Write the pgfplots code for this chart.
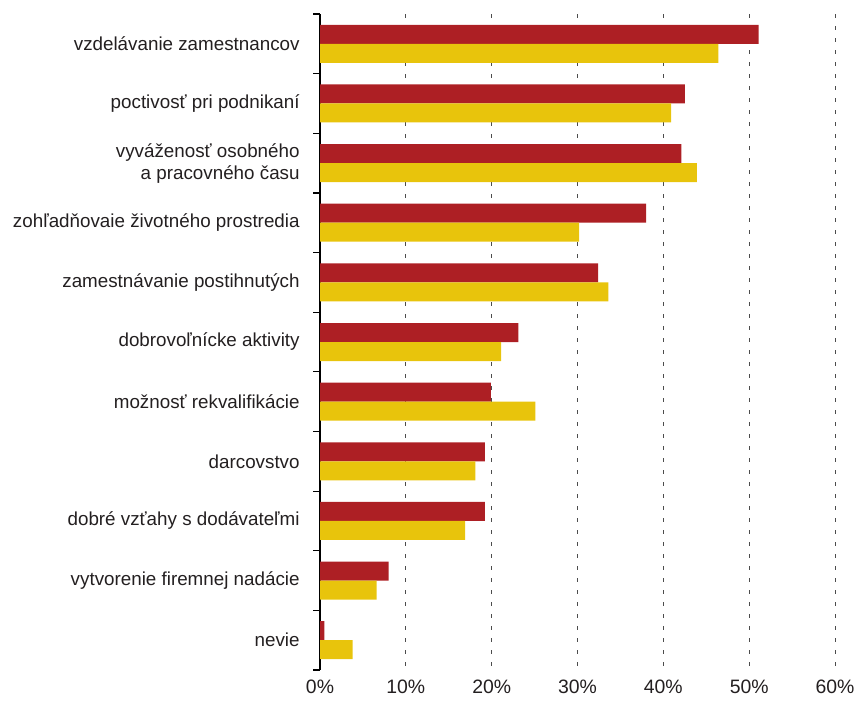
\documentclass[border=0pt]{standalone}
\usepackage{pgfplots}
\pgfplotsset{compat=1.18}
\usepackage{fontspec}
\setmainfont{Liberation Sans}
\definecolor{cred}{RGB}{173,31,36}
\definecolor{cyel}{RGB}{232,196,12}
\definecolor{ctxt}{RGB}{35,31,32}
\pgfplotstableread{
idx red yel
0 51.1 46.4
1 42.5 40.9
2 42.1 43.9
3 38.0 30.2
4 32.4 33.6
5 23.1 21.1
6 19.9 25.1
7 19.2 18.1
8 19.2 16.9
9 8.0 6.6
10 0.5 3.8
}\data
\begin{document}
\begin{tikzpicture}
\begin{axis}[
  scale only axis, width=257.5pt, height=328pt,
  xbar, bar width=9.5pt,
  xmin=0, xmax=60, ymin=-0.5, ymax=10.5, y dir=reverse,
  xtick={0,10,...,60},
  xticklabel={\pgfmathprintnumber{\tick}\%},
  /pgf/number format/assume math mode=true,
  xmajorgrids,
  major grid style={black!70, line width=0.5pt, dash pattern=on 2pt off 4pt},
  ytick={0,...,10},
  yticklabels={vzdelávanie zamestnancov, poctivosť pri podnikaní, {vyváženosť osobného\\a pracovného času}, zohľadňovaie životného prostredia, zamestnávanie postihnutých, dobrovoľnícke aktivity, možnosť rekvalifikácie, darcovstvo, dobré vzťahy s dodávateľmi, vytvorenie firemnej nadácie, nevie},
  extra y ticks={-0.5,0.5,1.5,2.5,3.5,4.5,5.5,6.5,7.5,8.5,9.5,10.5},
  extra y tick labels={},
  extra y tick style={major tick length=3.5pt, tick style={black, line width=0.6pt}, tick align=outside, grid=none},
  major tick length=0pt,
  tick align=outside, ytick pos=left, xtick pos=bottom,
  axis x line=bottom, axis y line=left,
  x axis line style={draw=none},
  y axis line style={black, line width=0.8pt, -},
  yticklabel style={font=\fontsize{9.4}{11}\selectfont, text=ctxt, align=right, inner sep=0pt, xshift=-10pt},
  xticklabel style={font=\fontsize{9.7}{12}\selectfont, text=ctxt, inner sep=0pt, yshift=-5pt},
  clip=false,
]
\addplot[fill=cred, draw=none, bar shift=4.75pt] table[x=red, y=idx] {\data};
\addplot[fill=cyel, draw=none, bar shift=-4.75pt] table[x=yel, y=idx] {\data};
\end{axis}
\draw[draw=none] ([yshift=7pt]current axis.north) -- (current axis.north);
\draw[draw=none] ([yshift=-18pt]current axis.south) -- (current axis.south);
\draw[draw=none] ([xshift=16pt]current axis.east) -- (current axis.east);
\draw[draw=none] ([xshift=-160pt]current axis.west) -- (current axis.west);
\end{tikzpicture}
\end{document}
